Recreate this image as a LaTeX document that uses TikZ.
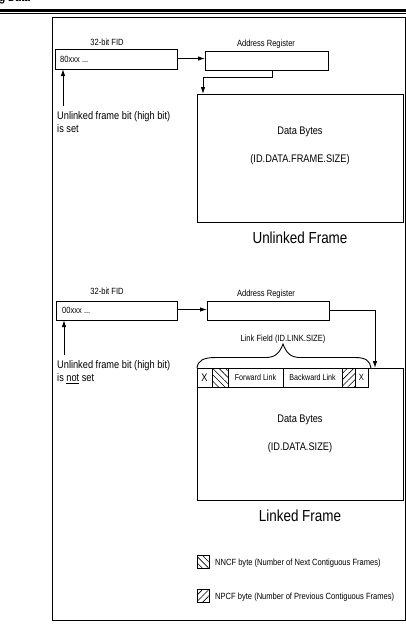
\documentclass[tikz,border=0pt]{standalone}
\usepackage{fontspec}
\setmainfont{Liberation Sans}[FakeStretch=0.84]
\usetikzlibrary{arrows.meta,patterns.meta}
\tikzset{
  box/.style={draw, line width=0.9pt, inner sep=0pt, outer sep=0pt},
  lbl/.style={font=\fontsize{9}{10}\selectfont, inner sep=0pt},
  cell/.style={font=\fontsize{8.5}{10}\selectfont, inner sep=0pt},
  mid/.style={font=\fontsize{11}{13.5}\selectfont, inner sep=0pt},
  title/.style={font=\fontsize{16}{18}\selectfont, inner sep=0pt},
  conn/.style={line width=0.9pt, -{Latex[length=7pt,width=4.5pt]}},
  plain/.style={line width=0.9pt},
  nnhatch/.style={pattern={Lines[angle=-45,distance=4.5pt,line width=0.6pt]}},
  nphatch/.style={pattern={Lines[angle=45,distance=4.5pt,line width=0.6pt]}},
}
\begin{document}
\begin{tikzpicture}[x=1pt,y=-1pt]
\useasboundingbox (0,0) rectangle (406,633);
\fill[white] (0,0) rectangle (406,633);
\clip (0,0) rectangle (406,633);
% page header
\node[font=\bfseries\fontsize{12}{14}\selectfont, inner sep=0pt, anchor=base west] (hdr) at (-1,1.5) {g Data};
\draw[line width=2.2pt] (0,10.5) -- (406,10.5);
\draw[line width=0.5pt] (0,13.2) -- (406,13.2);
% outer frame
\draw[line width=1pt] (52,17) rectangle (405.5,620);

% ---------- Unlinked frame ----------
\node[lbl, anchor=base] (fidlbl1) at (107,45) {32-bit FID};
\node[box, minimum width=122pt, minimum height=20pt] (fid1) at (116,59) {};
\node[lbl, anchor=west] (fidtxt1) at (60,59) {80xxx ...};
\node[lbl, anchor=base] (arlbl1) at (266,46) {Address Register};
\node[box, minimum width=123pt, minimum height=19pt] (ar1) at (266.5,60.5) {};
\draw[conn] (fid1.east |- 0,58.5) -- (ar1.west |- 0,58.5);
\node[box, minimum width=206pt, minimum height=128pt] (data1) at (300,158) {};
\node[mid] (db1) at (300,132) {Data Bytes};
\node[mid] (ds1) at (300,160) {(ID.DATA.FRAME.SIZE)};
\draw[conn] (ar1.south -| 272,0) -- (272,77) -- (203,77) -- (data1.north -| 203,0);
\coordinate (tail1) at (63,106);
\draw[conn] (tail1) -- (fid1.south -| tail1);
\node[mid, align=left, anchor=north west] (note1) at (57,111) {Unlinked frame bit (high bit)\\is set};
\node[title] (uf) at (300,238) {Unlinked Frame};

% ---------- Linked frame ----------
\node[lbl, anchor=base] (fidlbl2) at (107,294) {32-bit FID};
\node[box, minimum width=121pt, minimum height=19pt] (fid2) at (116.5,310.5) {};
\node[lbl, anchor=west] (fidtxt2) at (62,310.5) {00xxx ...};
\node[lbl, anchor=base] (arlbl2) at (266,296) {Address Register};
\node[box, minimum width=122pt, minimum height=19pt] (ar2) at (268,310.5) {};
\draw[conn] (fid2.east |- 0,309.5) -- (ar2.west |- 0,309.5);
\node[box, minimum width=206pt, minimum height=132pt] (data2) at (300,434) {};
\draw[conn] (ar2.east) -- (375,310.5) -- (data2.north -| 375,0);
\coordinate (tail2) at (64,355);
\draw[conn] (tail2) -- (fid2.south -| tail2);
\node[mid, align=left, anchor=north west] (note2) at (57,360) {Unlinked frame bit (high bit)\\is \underline{not} set};

% link field row
\node[box, minimum width=15pt, minimum height=19pt, mid] (x1) at (204.5,377.5) {X};
\node[box, minimum width=16pt, minimum height=19pt, nnhatch] (nn) at (220,377.5) {};
\node[box, minimum width=55pt, minimum height=19pt, cell] (fw) at (255.5,377.5) {Forward Link};
\node[box, minimum width=59pt, minimum height=19pt, cell] (bw) at (312.5,377.5) {Backward Link};
\node[box, minimum width=13pt, minimum height=19pt, nphatch] (np) at (348.5,377.5) {};
\node[box, minimum width=13pt, minimum height=19pt, lbl] (x2) at (361.5,377.5) {X};
% brace
\coordinate (brL) at (197,368);
\coordinate (brP) at (283,344);
\coordinate (brR) at (371,368);
\draw[plain] (brL) .. controls (198,360) and (204,357.5) .. (216,357.5)
  -- (266,357.5) .. controls (276,357.5) and (280,352) .. (brP)
  .. controls (286,352) and (290,357.5) .. (300,357.5)
  -- (355,357.5) .. controls (366,357.5) and (370,361) .. (brR);
\node[lbl] (lf) at (283,339) {Link Field (ID.LINK.SIZE)};
\node[mid] (db2) at (300,420) {Data Bytes};
\node[mid] (ds2) at (300,448) {(ID.DATA.SIZE)};
\node[title] (lkf) at (300,516) {Linked Frame};

% legend
\node[box, minimum width=12pt, minimum height=13pt, nnhatch] (lg1) at (203,562) {};
\node[lbl, anchor=west] (lg1t) at (215,563) {NNCF byte (Number of Next Contiguous Frames)};
\node[box, minimum width=12pt, minimum height=13pt, nphatch] (lg2) at (203,596) {};
\node[lbl, anchor=west] (lg2t) at (215,597) {NPCF byte (Number of Previous Contiguous Frames)};
\end{tikzpicture}
\end{document}
